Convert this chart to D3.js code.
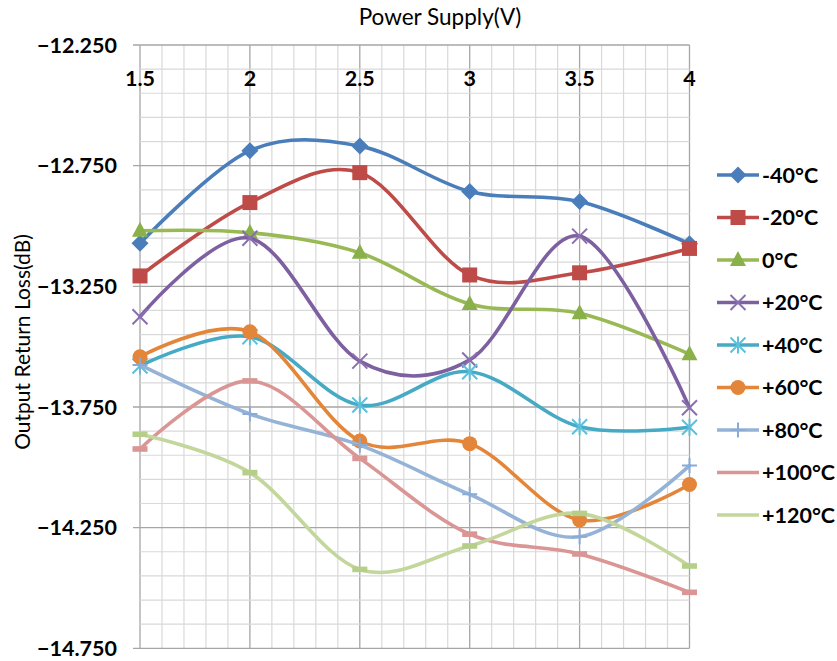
<!DOCTYPE html>
<html>
<head>
<meta charset="utf-8">
<script src="https://cdn.jsdelivr.net/npm/d3@7"></script>
<style>
  html, body { margin: 0; padding: 0; background: #ffffff; }
  svg { display: block; }
</style>
</head>
<body>
<svg id="chart" width="837" height="661"></svg>
<script>
// Supply voltages (x) and the temperature series measured at each one
const voltages = [1.5, 2, 2.5, 3, 3.5, 4];
const xTickLabels = ["1.5", "2", "2.5", "3", "3.5", "4"];
const yTickValues = [-12.25, -12.75, -13.25, -13.75, -14.25, -14.75];

const seriesNames = ["-40°C", "-20°C", "0°C", "+20°C", "+40°C", "+60°C", "+80°C", "+100°C", "+120°C"];
const valuesM40  = [-13.072, -12.688, -12.669, -12.857, -12.899, -13.074];
const valuesM20  = [-13.207, -12.903, -12.779, -13.203, -13.194, -13.093];
const values0    = [-13.020, -13.028, -13.111, -13.323, -13.362, -13.531];
const valuesP20  = [-13.376, -13.051, -13.560, -13.555, -13.042, -13.753];
const valuesP40  = [-13.580, -13.459, -13.742, -13.604, -13.832, -13.834];
const valuesP60  = [-13.542, -13.438, -13.891, -13.902, -14.218, -14.071];
const valuesP80  = [-13.576, -13.779, -13.908, -14.112, -14.288, -13.993];
const valuesP100 = [-13.924, -13.642, -13.963, -14.277, -14.359, -14.518];
const valuesP120 = [-13.863, -14.022, -14.423, -14.326, -14.191, -14.409];

const allValues = [valuesM40, valuesM20, values0, valuesP20, valuesP40, valuesP60, valuesP80, valuesP100, valuesP120];
const colors = ["#4a7ebb", "#be4b48", "#98b954", "#7d60a0", "#46aac5", "#e3863a", "#95b3d7", "#d99694", "#c3d69b"];
const markerColors = ["#4a7ebb", "#be4b48", "#8ab04a", "#8a6fb0", "#5cc0dc", "#e3863a", "#8aaad8", "#d99694", "#b6cf88"];
const markers = ["diamond", "square", "triangle", "x", "asterisk", "circle", "plus", "dash", "dash"];

const svg = d3.select("#chart");
const font = "Lato, 'Open Sans', Arial, sans-serif";

const plot = { left: 140, right: 689.5, top: 45, bottom: 648.3 };
const x = d3.scaleLinear().domain([1.5, 4]).range([plot.left, plot.right]);
const y = d3.scaleLinear().domain([-12.25, -14.75]).range([plot.top, plot.bottom]);

// Minor grid every 0.1, major every 0.5
const grid = svg.append("g");
d3.range(0, 26).forEach(i => {
  const v = 1.5 + i * 0.1;
  const major = i % 5 === 0;
  grid.append("line")
    .attr("x1", x(v)).attr("x2", x(v))
    .attr("y1", plot.top).attr("y2", plot.bottom)
    .attr("stroke", major ? "#a6a6a6" : "#d9d9d9")
    .attr("stroke-width", major ? 1.3 : 1.2);
});
d3.range(0, 26).forEach(i => {
  const v = -12.25 - i * 0.1;
  const major = i % 5 === 0;
  grid.append("line")
    .attr("x1", major ? plot.left - 7 : plot.left).attr("x2", plot.right)
    .attr("y1", y(v)).attr("y2", y(v))
    .attr("stroke", major ? "#a6a6a6" : "#d9d9d9")
    .attr("stroke-width", major ? 1.3 : 1.2);
});

// Y tick labels
svg.append("g").selectAll("text")
  .data(yTickValues)
  .join("text")
  .attr("x", 117)
  .attr("y", d => y(d))
  .attr("dy", "0.36em")
  .attr("text-anchor", "end")
  .attr("font-family", font)
  .attr("font-weight", "bold")
  .attr("font-size", 21.5)
  .attr("fill", "#000")
  .text(d => d3.format(".3f")(d));

// X tick labels sit just under the top edge
svg.append("g").selectAll("text")
  .data(voltages)
  .join("text")
  .attr("x", d => x(d))
  .attr("y", 78)
  .attr("dy", "0.36em")
  .attr("text-anchor", "middle")
  .attr("font-family", font)
  .attr("font-weight", "bold")
  .attr("font-size", 21.5)
  .attr("fill", "#000")
  .text((d, i) => xTickLabels[i]);

// Axis titles
svg.append("text")
  .attr("x", 440).attr("y", 25)
  .attr("text-anchor", "middle")
  .attr("font-family", font)
  .attr("font-size", 22.5)
  .attr("fill", "#000")
  .text("Power Supply(V)");

svg.append("text")
  .attr("transform", "translate(30,342) rotate(-90)")
  .attr("text-anchor", "middle")
  .attr("font-family", font)
  .attr("font-size", 21)
  .attr("fill", "#000")
  .text("Output Return Loss(dB)");

// Marker shapes
function drawMarker(g, type, cx, cy, color) {
  const s = 7.5;
  if (type === "diamond") {
    g.append("path").attr("d", `M${cx},${cy - 8.5}L${cx + 8.5},${cy}L${cx},${cy + 8.5}L${cx - 8.5},${cy}Z`).attr("fill", color);
  } else if (type === "square") {
    g.append("rect").attr("x", cx - s).attr("y", cy - s).attr("width", 2 * s).attr("height", 2 * s).attr("fill", color);
  } else if (type === "triangle") {
    g.append("path").attr("d", `M${cx},${cy - 9}L${cx + 8},${cy + 6}L${cx - 8},${cy + 6}Z`).attr("fill", color);
  } else if (type === "circle") {
    g.append("circle").attr("cx", cx).attr("cy", cy).attr("r", 7.5).attr("fill", color);
  } else if (type === "x") {
    g.append("path").attr("d", `M${cx - s},${cy - s}L${cx + s},${cy + s}M${cx + s},${cy - s}L${cx - s},${cy + s}`)
      .attr("stroke", color).attr("stroke-width", 2).attr("fill", "none");
  } else if (type === "asterisk") {
    g.append("path").attr("d", `M${cx - s},${cy - s}L${cx + s},${cy + s}M${cx + s},${cy - s}L${cx - s},${cy + s}M${cx},${cy - s - 1}L${cx},${cy + s + 1}`)
      .attr("stroke", color).attr("stroke-width", 2).attr("fill", "none");
  } else if (type === "plus") {
    g.append("path").attr("d", `M${cx - s},${cy}L${cx + s},${cy}M${cx},${cy - s}L${cx},${cy + s}`)
      .attr("stroke", color).attr("stroke-width", 2).attr("fill", "none");
  } else if (type === "dash") {
    g.append("rect").attr("x", cx - 7.5).attr("y", cy - 2.8).attr("width", 15).attr("height", 5.6).attr("fill", color);
  }
}

// Smoothed series lines with markers
const line = d3.line()
  .x((d, i) => x(voltages[i]))
  .y(d => y(d))
  .curve(d3.curveCardinal.tension(0));

const seriesG = svg.append("g");
allValues.forEach((vals, si) => {
  const g = seriesG.append("g");
  g.append("path")
    .attr("d", line(vals))
    .attr("fill", "none")
    .attr("stroke", colors[si])
    .attr("stroke-width", 3.6)
    .attr("stroke-linejoin", "round")
    .attr("stroke-linecap", "round");
  vals.forEach((v, i) => drawMarker(g, markers[si], x(voltages[i]), y(v), markerColors[si]));
});

// Legend
const legend = svg.append("g");
seriesNames.forEach((name, i) => {
  const ly = 175 + i * 42.5;
  const g = legend.append("g");
  g.append("line")
    .attr("x1", 717).attr("x2", 759)
    .attr("y1", ly).attr("y2", ly)
    .attr("stroke", colors[i]).attr("stroke-width", 3.6);
  drawMarker(g, markers[i] === "dash" ? "none" : markers[i], 738, ly, markerColors[i]);
  g.append("text")
    .attr("x", 762).attr("y", ly)
    .attr("dy", "0.36em")
    .attr("font-family", font)
    .attr("font-weight", "bold")
    .attr("font-size", 21.5)
    .attr("fill", "#000")
    .text(name);
});
</script>
</body>
</html>
